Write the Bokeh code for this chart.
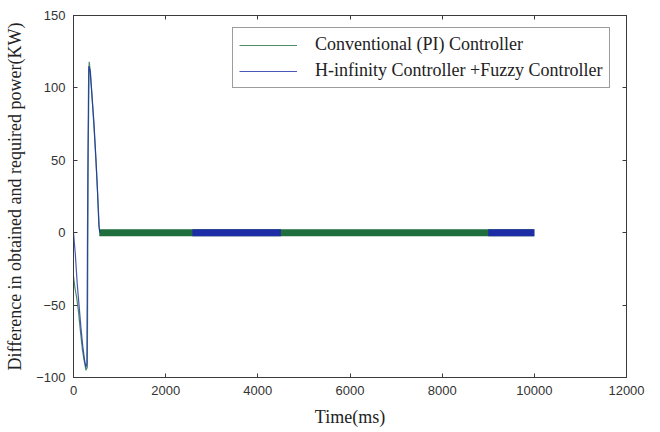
from bokeh.plotting import figure
from bokeh.models import Range1d, LinearAxis, FixedTicker, Legend, LegendItem, CustomJSTickFormatter
from bokeh.embed import file_html
from bokeh.resources import INLINE

# ---- data ----
x_ticks = [0, 2000, 4000, 6000, 8000, 10000, 12000]
y_ticks = [-100, -50, 0, 50, 100, 150]

# Conventional (PI) controller - transient part
pi_time = [0, 30, 70, 110, 150, 190, 230, 270, 300, 320, 340, 370, 410, 450, 490, 530, 560, 580]
pi_value = [-30, -38, -45, -55, -68, -80, -88, -95, -93, 60, 118, 110, 90, 70, 48, 22, 3, 0]
# PI steady-state band (thick band around zero)
pi_steady_time = [560, 10000]
pi_steady_value = [0, 0]

# H-infinity + Fuzzy controller - transient part
hinf_time = [0, 40, 80, 120, 160, 200, 240, 270, 290, 310, 330, 360, 400, 440, 480, 520, 550, 570]
hinf_value = [0, -15, -35, -50, -65, -78, -88, -93, -90, 40, 115, 112, 95, 78, 55, 30, 5, 0]
# H-infinity steady-state band, where it is visible above the PI band
hinf_steady_time_a = [2580, 4500]
hinf_steady_value_a = [0, 0]
hinf_steady_time_b = [9000, 10000]
hinf_steady_value_b = [0, 0]

GREEN = "#1f6e3e"
BLUE = "#1c2da6"
SERIF = "Liberation Serif"
SANS = "Liberation Sans"

p = figure(width=660, height=432, output_backend="svg", toolbar_location=None,
           x_range=Range1d(0, 12000), y_range=Range1d(-100, 150),
           min_border_left=73, min_border_right=34, min_border_top=15, min_border_bottom=55,
           background_fill_color="white", border_fill_color="white")
p.xgrid.visible = False
p.ygrid.visible = False
p.outline_line_color = "#3a3a3a"

def style_axis(ax, ticks, labels=True):
    ax.ticker = FixedTicker(ticks=ticks)
    ax.major_tick_in = 4
    ax.major_tick_out = 0
    ax.minor_tick_line_color = None
    ax.axis_line_color = "#3a3a3a"
    ax.major_tick_line_color = "#3a3a3a"
    ax.major_label_text_font = SANS
    ax.major_label_text_font_size = "13px"
    ax.major_label_text_color = "#333333"
    ax.axis_label_text_font = SERIF
    ax.axis_label_text_font_style = "normal"
    ax.axis_label_text_font_size = "18px"
    ax.axis_label_text_color = "#222222"
    if not labels:
        ax.formatter = CustomJSTickFormatter(code="return ''")
        ax.major_label_standoff = 0

style_axis(p.xaxis[0], x_ticks)
style_axis(p.yaxis[0], y_ticks)
p.xaxis[0].axis_label = "Time(ms)"
p.yaxis[0].axis_label = "Difference in obtained and required power(KW)"
p.xaxis[0].major_label_standoff = 8
p.yaxis[0].major_label_standoff = 8
p.xaxis[0].axis_label_standoff = 9
p.yaxis[0].axis_label_standoff = 8

top_ax = LinearAxis()
style_axis(top_ax, x_ticks, labels=False)
right_ax = LinearAxis()
style_axis(right_ax, y_ticks, labels=False)
p.add_layout(top_ax, "above")
p.add_layout(right_ax, "right")

# PI controller
r_pi = p.line(pi_time, pi_value, line_color=GREEN, line_width=1.2, line_alpha=0.8)
p.line(pi_steady_time, pi_steady_value, line_color=GREEN, line_width=7)

# H-infinity + fuzzy controller
r_hinf = p.line(hinf_time, hinf_value, line_color=BLUE, line_width=1.2, line_alpha=0.8)
p.line(hinf_steady_time_a, hinf_steady_value_a, line_color=BLUE, line_width=7)
p.line(hinf_steady_time_b, hinf_steady_value_b, line_color=BLUE, line_width=7)

legend = Legend(items=[
    LegendItem(label="Conventional (PI) Controller", renderers=[r_pi]),
    LegendItem(label="H-infinity Controller +Fuzzy Controller", renderers=[r_hinf]),
], location=(159, 289))
legend.label_text_font = SERIF
legend.label_text_font_size = "18px"
legend.label_text_color = "#222222"
legend.glyph_width = 58
legend.glyph_height = 20
legend.label_height = 20
legend.label_standoff = 18
legend.spacing = 5
legend.padding = 6
legend.margin = 0
legend.border_line_color = "#3a3a3a"
legend.border_line_width = 1
legend.background_fill_color = "white"
legend.background_fill_alpha = 1
p.add_layout(legend, "center")

open("out.html", "w").write(file_html(p, INLINE))
